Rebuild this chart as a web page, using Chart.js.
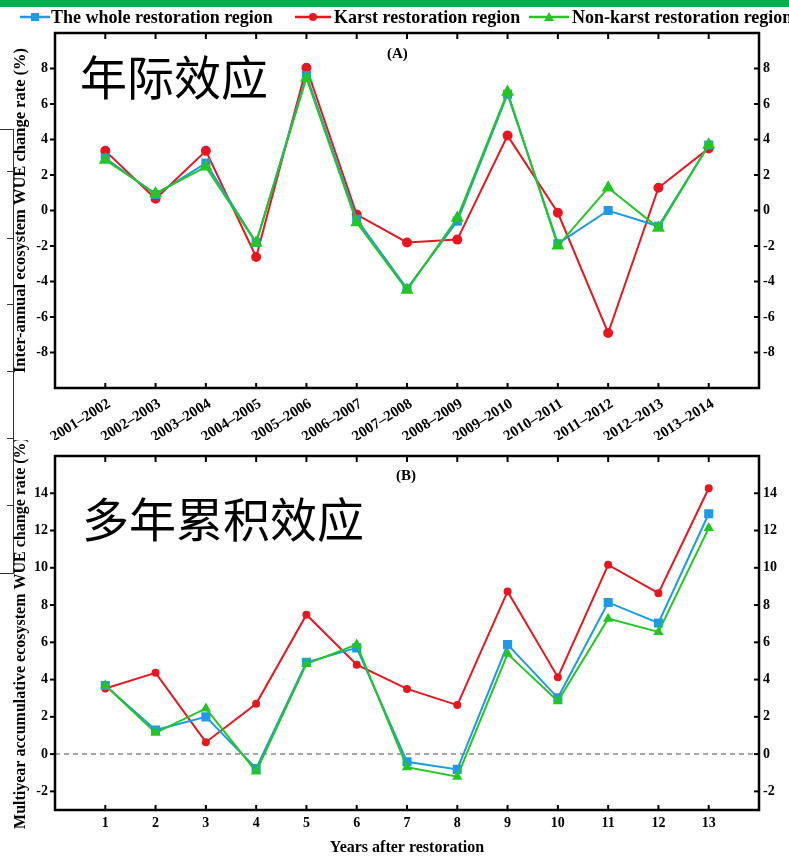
<!DOCTYPE html>
<html><head><meta charset="utf-8">
<script src="https://cdn.jsdelivr.net/npm/chart.js@4.4.1/dist/chart.umd.min.js"></script>
<style>
html,body{margin:0;padding:0;background:#fff;width:789px;height:856px;overflow:hidden;position:relative;font-family:'Liberation Serif',serif;}
#bar{position:absolute;left:0;top:0;width:789px;height:7px;background:#00b050;}
canvas{position:absolute;left:0;}
#cA{top:0;}
#cB{top:440px;}
.lg{position:absolute;top:7px;height:20px;font:bold 18px 'Liberation Serif',serif;line-height:20px;white-space:nowrap;color:#000;}
.ic{position:absolute;top:8px;}
.ov{position:absolute;white-space:nowrap;color:#000;}
.cjk{font-family:'Noto Sans CJK SC',sans-serif;font-size:47px;line-height:47px;}
.tag{font:bold 15px 'Liberation Serif',serif;line-height:15px;}
.bl{position:absolute;background:#333;}
</style>
</head>
<body>
<div id="bar"></div>
<canvas id="cA" width="789" height="440"></canvas>
<canvas id="cB" width="789" height="416"></canvas>

<svg class="ic" style="left:20px" width="30" height="18"><line x1="0" y1="9" x2="30" y2="9" stroke="#1f9ae6" stroke-width="2.5"/><rect x="11" y="5" width="8" height="8" fill="#1f9ae6"/></svg>
<div class="lg" style="left:51px">The whole restoration region</div>
<svg class="ic" style="left:295px" width="36" height="18"><line x1="0" y1="9" x2="36" y2="9" stroke="#e8171f" stroke-width="2.5"/><circle cx="18" cy="9" r="4" fill="#e8171f"/></svg>
<div class="lg" style="left:334px">Karst restoration region</div>
<svg class="ic" style="left:529px" width="40" height="18"><line x1="0" y1="9" x2="40" y2="9" stroke="#22c722" stroke-width="2.5"/><polygon points="20,4 25,13 15,13" fill="#22c722"/></svg>
<div class="lg" style="left:572px">Non-karst restoration region</div>

<div class="ov cjk" style="left:80px;top:51px;">年际效应</div>
<div class="ov cjk" style="left:82px;top:493px;">多年累积效应</div>
<div class="ov tag" style="left:387px;top:46px;">(A)</div>
<div class="ov tag" style="left:396px;top:468px;">(B)</div>

<div class="bl" style="left:0;top:129px;width:14px;height:1px;"></div>
<div class="bl" style="left:13px;top:129px;width:1px;height:444px;"></div>
<div class="bl" style="left:0;top:573px;width:14px;height:1px;"></div>
<div class="bl" style="left:7px;top:171px;width:6px;height:1px;"></div>
<div class="bl" style="left:7px;top:238px;width:6px;height:1px;"></div>
<div class="bl" style="left:7px;top:304px;width:6px;height:1px;"></div>
<div class="bl" style="left:7px;top:371px;width:6px;height:1px;"></div>
<div class="bl" style="left:7px;top:438px;width:6px;height:1px;"></div>
<div class="bl" style="left:7px;top:505px;width:6px;height:1px;"></div>

<script>
// ---------- Data ----------
const categoriesA = ['2001–2002','2002–2003','2003–2004','2004–2005','2005–2006','2006–2007','2007–2008','2008–2009','2009–2010','2010–2011','2011–2012','2012–2013','2013–2014'];
const wholeA    = [2.95, 0.90, 2.67, -1.80, 7.60, -0.50, -4.40, -0.60, 6.55, -1.87, 0.00, -0.89, 3.69];
const karstA    = [3.36, 0.66, 3.36, -2.62, 8.04, -0.23, -1.80, -1.64, 4.22, -0.13, -6.90, 1.28, 3.50];
const nonKarstA = [2.85, 0.96, 2.46, -1.82, 7.47, -0.68, -4.48, -0.42, 6.67, -1.99, 1.28, -0.98, 3.70];
const yTicksA   = [-8, -6, -4, -2, 0, 2, 4, 6, 8];

const yearsB    = ['1','2','3','4','5','6','7','8','9','10','11','12','13'];
const wholeB    = [3.68, 1.29, 2.00, -0.77, 4.93, 5.70, -0.41, -0.82, 5.88, 3.02, 8.14, 7.04, 12.90];
const karstB    = [3.52, 4.36, 0.64, 2.70, 7.48, 4.80, 3.50, 2.63, 8.73, 4.13, 10.16, 8.64, 14.27];
const nonKarstB = [3.70, 1.14, 2.45, -0.94, 4.84, 5.88, -0.70, -1.21, 5.38, 2.84, 7.27, 6.56, 12.13];
const yTicksB   = [-2, 0, 2, 4, 6, 8, 10, 12, 14];

const seriesNames = ['The whole restoration region', 'Karst restoration region', 'Non-karst restoration region'];
// ---------------------------

const BLUE = '#1f9ae6', RED = '#e8171f', GREEN = '#22c722';
const tickFont = {family: 'Liberation Serif', size: 14, weight: 'bold'};

const framePlugin = {
  id: 'frame',
  beforeDatasetsDraw(chart, args, opts) {
    if (!opts.zeroLine) return;
    const {ctx, chartArea: a, scales} = chart;
    const py = scales.y.getPixelForValue(0);
    ctx.save();
    ctx.strokeStyle = '#8a8a8a'; ctx.lineWidth = 1.5; ctx.setLineDash([5, 4]);
    ctx.beginPath(); ctx.moveTo(a.left, py); ctx.lineTo(a.right, py); ctx.stroke();
    ctx.restore();
  },
  afterDraw(chart) {
    const {ctx, chartArea: a, scales} = chart;
    ctx.save();
    ctx.strokeStyle = '#000';
    ctx.lineWidth = 2.5;
    ctx.strokeRect(a.left, a.top, a.right - a.left, a.bottom - a.top);
    ctx.lineWidth = 2;
    const seg = (x1, y1, x2, y2) => { ctx.beginPath(); ctx.moveTo(x1, y1); ctx.lineTo(x2, y2); ctx.stroke(); };
    scales.x.ticks.forEach(t => {
      const px = scales.x.getPixelForValue(t.value);
      seg(px, a.bottom, px, a.bottom - 5);
      seg(px, a.top, px, a.top + 6);
    });
    scales.y.ticks.forEach(t => {
      const py = scales.y.getPixelForValue(t.value);
      seg(a.left - 5, py, a.left, py);
      seg(a.right - 5, py, a.right, py);
    });
    ctx.restore();
  }
};

function ds(label, values, color, style, radius, order) {
  return {
    label, order,
    data: values.map((v, i) => ({x: i + 1, y: v})),
    borderColor: color, backgroundColor: color,
    pointBackgroundColor: color, pointBorderColor: color,
    pointStyle: style, pointRadius: radius, pointHoverRadius: radius,
    borderWidth: 2, tension: 0, fill: false
  };
}

function makeChart(id, cfg) {
  const yAxis = (pos, width) => ({
    type: 'linear', position: pos, min: cfg.yMin, max: cfg.yMax,
    afterBuildTicks: s => { s.ticks = cfg.yTicks.map(v => ({value: v})); },
    afterFit: s => { s.width = width; },
    grid: {display: false, drawTicks: false},
    border: {display: false},
    ticks: {font: tickFont, color: '#000', padding: pos === 'left' ? 7 : 4},
    title: pos === 'left' ? {display: true, text: cfg.yTitle, font: {family: 'Liberation Serif', size: cfg.yTitleSize, weight: 'bold'}, color: '#000', padding: {top: 11, bottom: 0}} : {display: false}
  });
  return new Chart(document.getElementById(id), {
    type: 'line',
    data: {datasets: [
      ds(seriesNames[0], cfg.whole, BLUE, 'rect', cfg.r[0], 2),
      ds(seriesNames[1], cfg.karst, RED, 'circle', cfg.r[1], 3),
      ds(seriesNames[2], cfg.nonKarst, GREEN, 'triangle', cfg.r[2], 1)
    ]},
    options: {
      responsive: false, animation: false, devicePixelRatio: 1,
      layout: {padding: {top: cfg.padTop, left: 0, right: 0, bottom: 0}},
      plugins: {legend: {display: false}, tooltip: {enabled: false}, frame: {zeroLine: cfg.zeroLine}},
      scales: {
        x: {
          type: 'linear', position: 'bottom', min: 0, max: 14,
          afterBuildTicks: s => { s.ticks = cfg.xLabels.map((_, i) => ({value: i + 1})); },
          afterFit: s => { s.height = cfg.xHeight; },
          grid: {display: false, drawTicks: false},
          border: {display: false},
          ticks: {
            font: {family: 'Liberation Serif', size: cfg.xFontSize, weight: 'bold'}, color: '#000', autoSkip: false,
            maxRotation: cfg.rot, minRotation: cfg.rot, padding: cfg.xPad, labelOffset: cfg.xLabelOffset,
            callback: (v, i) => cfg.xLabels[i]
          },
          title: cfg.xTitle ? {display: true, text: cfg.xTitle, font: {family: 'Liberation Serif', size: 16, weight: 'bold'}, color: '#000', padding: {top: 0, bottom: -1}} : {display: false}
        },
        y: yAxis('left', 55),
        y2: yAxis('right', 30)
      }
    },
    plugins: [framePlugin]
  });
}

makeChart('cA', {
  whole: wholeA, karst: karstA, nonKarst: nonKarstA,
  xLabels: categoriesA, yTicks: yTicksA, yMin: -10, yMax: 10,
  yTitle: 'Inter-annual ecosystem WUE change rate (%)', yTitleSize: 16.5,
  padTop: 33, xHeight: 52, rot: 32, xPad: 7, xFontSize: 15, xLabelOffset: 4,
  r: [5, 4, 5.5], zeroLine: false
});

makeChart('cB', {
  whole: wholeB, karst: karstB, nonKarst: nonKarstB,
  xLabels: yearsB, yTicks: yTicksB, yMin: -3, yMax: 16,
  yTitle: 'Multiyear accumulative ecosystem WUE change rate (%)', yTitleSize: 16,
  xTitle: 'Years after restoration',
  padTop: 16, xHeight: 46, rot: 0, xPad: 5, xFontSize: 14, xLabelOffset: 0,
  r: [5, 3, 4], zeroLine: true
});
</script>
</body></html>
